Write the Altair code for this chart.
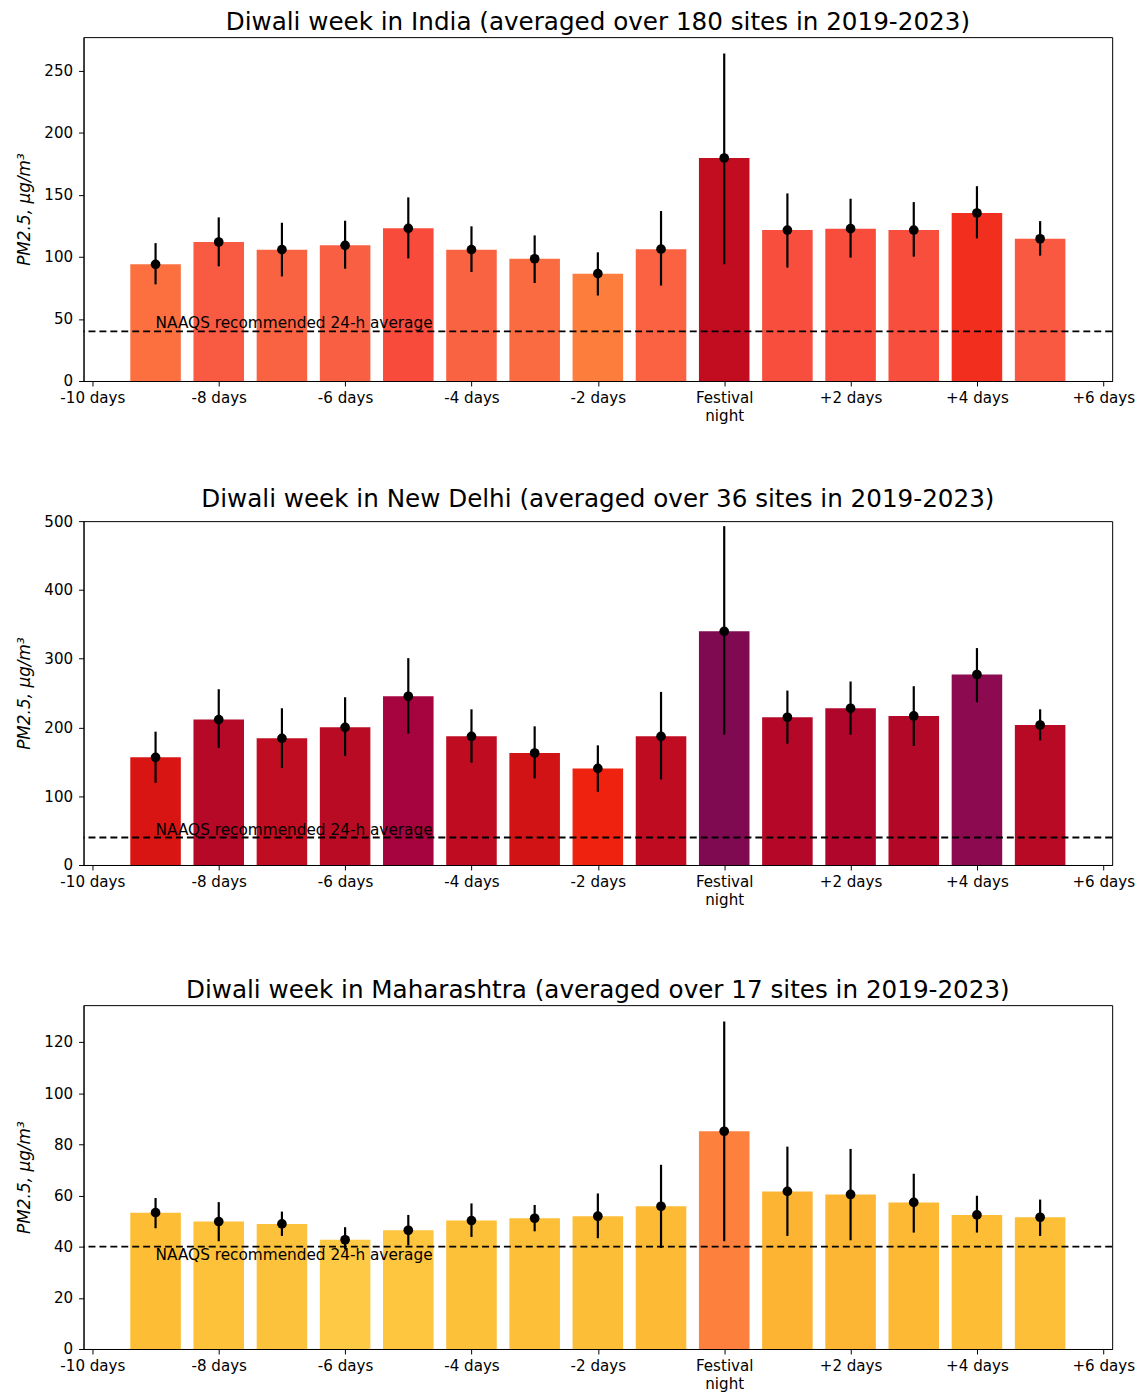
import altair as alt
import pandas as pd

days = [-9, -8, -7, -6, -5, -4, -3, -2, -1, 0, 1, 2, 3, 4, 5]

india_mean = [93.9, 111.9, 105.7, 109.2, 122.9, 105.7, 98.4, 86.4, 106.1, 179.5, 121.5, 122.6, 121.5, 135.2, 114.5]
india_lo = [77.8, 92.3, 84.2, 90.4, 98.7, 87.7, 78.9, 68.8, 76.8, 94.0, 91.3, 99.3, 100.1, 114.8, 100.9]
india_hi = [111.0, 131.7, 127.4, 129.0, 147.8, 124.5, 117.2, 103.6, 136.8, 263.6, 151.0, 146.7, 144.0, 156.8, 128.7]

delhi_mean = [156.5, 211.4, 184.2, 200.2, 245.4, 187.1, 162.8, 140.4, 187.1, 339.7, 214.8, 227.9, 216.7, 277.0, 203.6]
delhi_lo = [119.5, 170.0, 140.9, 158.4, 191.0, 148.7, 125.8, 106.4, 124.4, 189.5, 176.4, 189.5, 173.0, 236.6, 181.2]
delhi_hi = [193.9, 255.6, 227.9, 243.9, 300.8, 226.4, 201.6, 174.0, 251.7, 492.7, 253.6, 266.8, 260.0, 315.4, 226.4]

maha_mean = [53.3, 49.8, 48.9, 42.7, 46.4, 50.2, 51.1, 51.9, 55.8, 85.1, 61.6, 60.4, 57.3, 52.4, 51.5]
maha_lo = [47.2, 42.1, 44.2, 39.0, 40.5, 43.8, 46.0, 43.3, 39.5, 42.1, 44.2, 42.5, 45.5, 45.5, 44.2]
maha_hi = [59.0, 57.4, 53.7, 47.6, 52.4, 56.9, 56.3, 60.8, 72.0, 128.0, 79.1, 78.2, 68.5, 59.9, 58.4]

titles = [
    "Diwali week in India (averaged over 180 sites in 2019-2023)",
    "Diwali week in New Delhi (averaged over 36 sites in 2019-2023)",
    "Diwali week in Maharashtra (averaged over 17 sites in 2019-2023)",
]

x_tick_values = [-10, -8, -6, -4, -2, 0, 2, 4, 6]
x_tick_labels = ["-10 days", "-8 days", "-6 days", "-4 days", "-2 days",
                 ["Festival", "night"], "+2 days", "+4 days", "+6 days"]

naaqs_value = 40
naaqs_label = "NAAQS recommended 24-h average"

# colour map (value -> colour)
cmap_values = [40, 53, 62, 86, 94, 110, 122, 135, 140, 157, 180, 200, 228, 245, 277, 340]
cmap_colors = ["#fecc48", "#fdbd35", "#fdb433", "#fd7f3c", "#fc7040", "#f95e43", "#f84d3d",
               "#f22e20", "#ef220f", "#d81513", "#c20d20", "#ba0b24", "#b0062c", "#a6043e",
               "#8c0a4f", "#800a52"]

FONT = "DejaVu Sans"


def label_expr():
    expr = "''"
    for v, lab in reversed(list(zip(x_tick_values, x_tick_labels))):
        if isinstance(lab, list):
            s = "[" + ",".join("'" + p + "'" for p in lab) + "]"
        else:
            s = "'" + lab + "'"
        expr = f"datum.value == {v} ? {s} : ({expr})"
    return expr


def panel(title, mean, lo, hi, ymax, yticks, text_baseline):
    df = pd.DataFrame({"day": days, "mean": mean, "lo": lo, "hi": hi})
    base = alt.Chart(df)
    xscale = alt.Scale(domain=[-10.14, 6.14], nice=False, zero=False)
    yscale = alt.Scale(domain=[0, ymax], nice=False)
    xaxis = alt.Axis(values=x_tick_values, labelExpr=label_expr(), grid=False, title=None,
                     labelLineHeight=18, labelPadding=5)
    yaxis = alt.Axis(values=yticks, grid=False, title="PM2.5,   μg/m³", titleFontStyle="italic",
                     titleFontWeight="normal", titlePadding=10, labelPadding=6)

    bars = base.transform_calculate(
        x0="datum.day - 0.4", x1="datum.day + 0.4"
    ).mark_bar().encode(
        x=alt.X("x0:Q", scale=xscale, axis=xaxis),
        x2="x1:Q",
        y=alt.Y("mean:Q", scale=yscale, axis=yaxis),
        y2=alt.datum(0),
        color=alt.Color("mean:Q", scale=alt.Scale(domain=cmap_values, range=cmap_colors,
                                                  interpolate="rgb"), legend=None),
    )
    err = base.mark_rule(color="black", strokeWidth=2.2).encode(
        x=alt.X("day:Q", scale=xscale),
        y=alt.Y("lo:Q", scale=yscale),
        y2="hi:Q",
    )
    pts = base.mark_point(filled=True, color="black", size=95, opacity=1).encode(
        x=alt.X("day:Q", scale=xscale),
        y=alt.Y("mean:Q", scale=yscale),
    )
    hline = alt.Chart(pd.DataFrame({"v": [naaqs_value]})).mark_rule(
        color="black", strokeDash=[7, 4], strokeWidth=1.8
    ).encode(y=alt.Y("v:Q", scale=yscale))
    txt = alt.Chart(pd.DataFrame({"v": [naaqs_value], "d": [-9], "t": [naaqs_label]})).mark_text(
        align="left", baseline=text_baseline, fontSize=15.4, font=FONT, color="black",
        dy=(1 if text_baseline == "top" else 0)
    ).encode(x=alt.X("d:Q", scale=xscale), y=alt.Y("v:Q", scale=yscale), text="t:N")

    return alt.layer(bars, hline, err, pts, txt).properties(
        width=1035, height=346,
        title=alt.TitleParams(title, fontSize=24.8, fontWeight="normal", font=FONT, offset=2,
                              color="black"),
    )


p1 = panel(titles[0], india_mean, india_lo, india_hi, 276.8, [0, 50, 100, 150, 200, 250], "bottom")
p2 = panel(titles[1], delhi_mean, delhi_lo, delhi_hi, 500, [0, 100, 200, 300, 400, 500], "bottom")
p3 = panel(titles[2], maha_mean, maha_lo, maha_hi, 134.4, [0, 20, 40, 60, 80, 100, 120], "top")

chart = alt.vconcat(p1, p2, p3, spacing=141, bounds="flush", background="white").resolve_scale(
    y="independent"
).properties(
    padding={"left": 7, "top": -3, "right": 2, "bottom": 2}
).configure_view(stroke="black", strokeWidth=1).configure_axis(
    labelFont=FONT, titleFont=FONT, labelFontSize=15.2, titleFontSize=17,
    labelColor="black", titleColor="black", tickColor="black", domainColor="black",
    tickSize=5, domainWidth=1, tickWidth=1,
)

chart.save("out.html", embed_options={"renderer": "svg", "actions": False})
